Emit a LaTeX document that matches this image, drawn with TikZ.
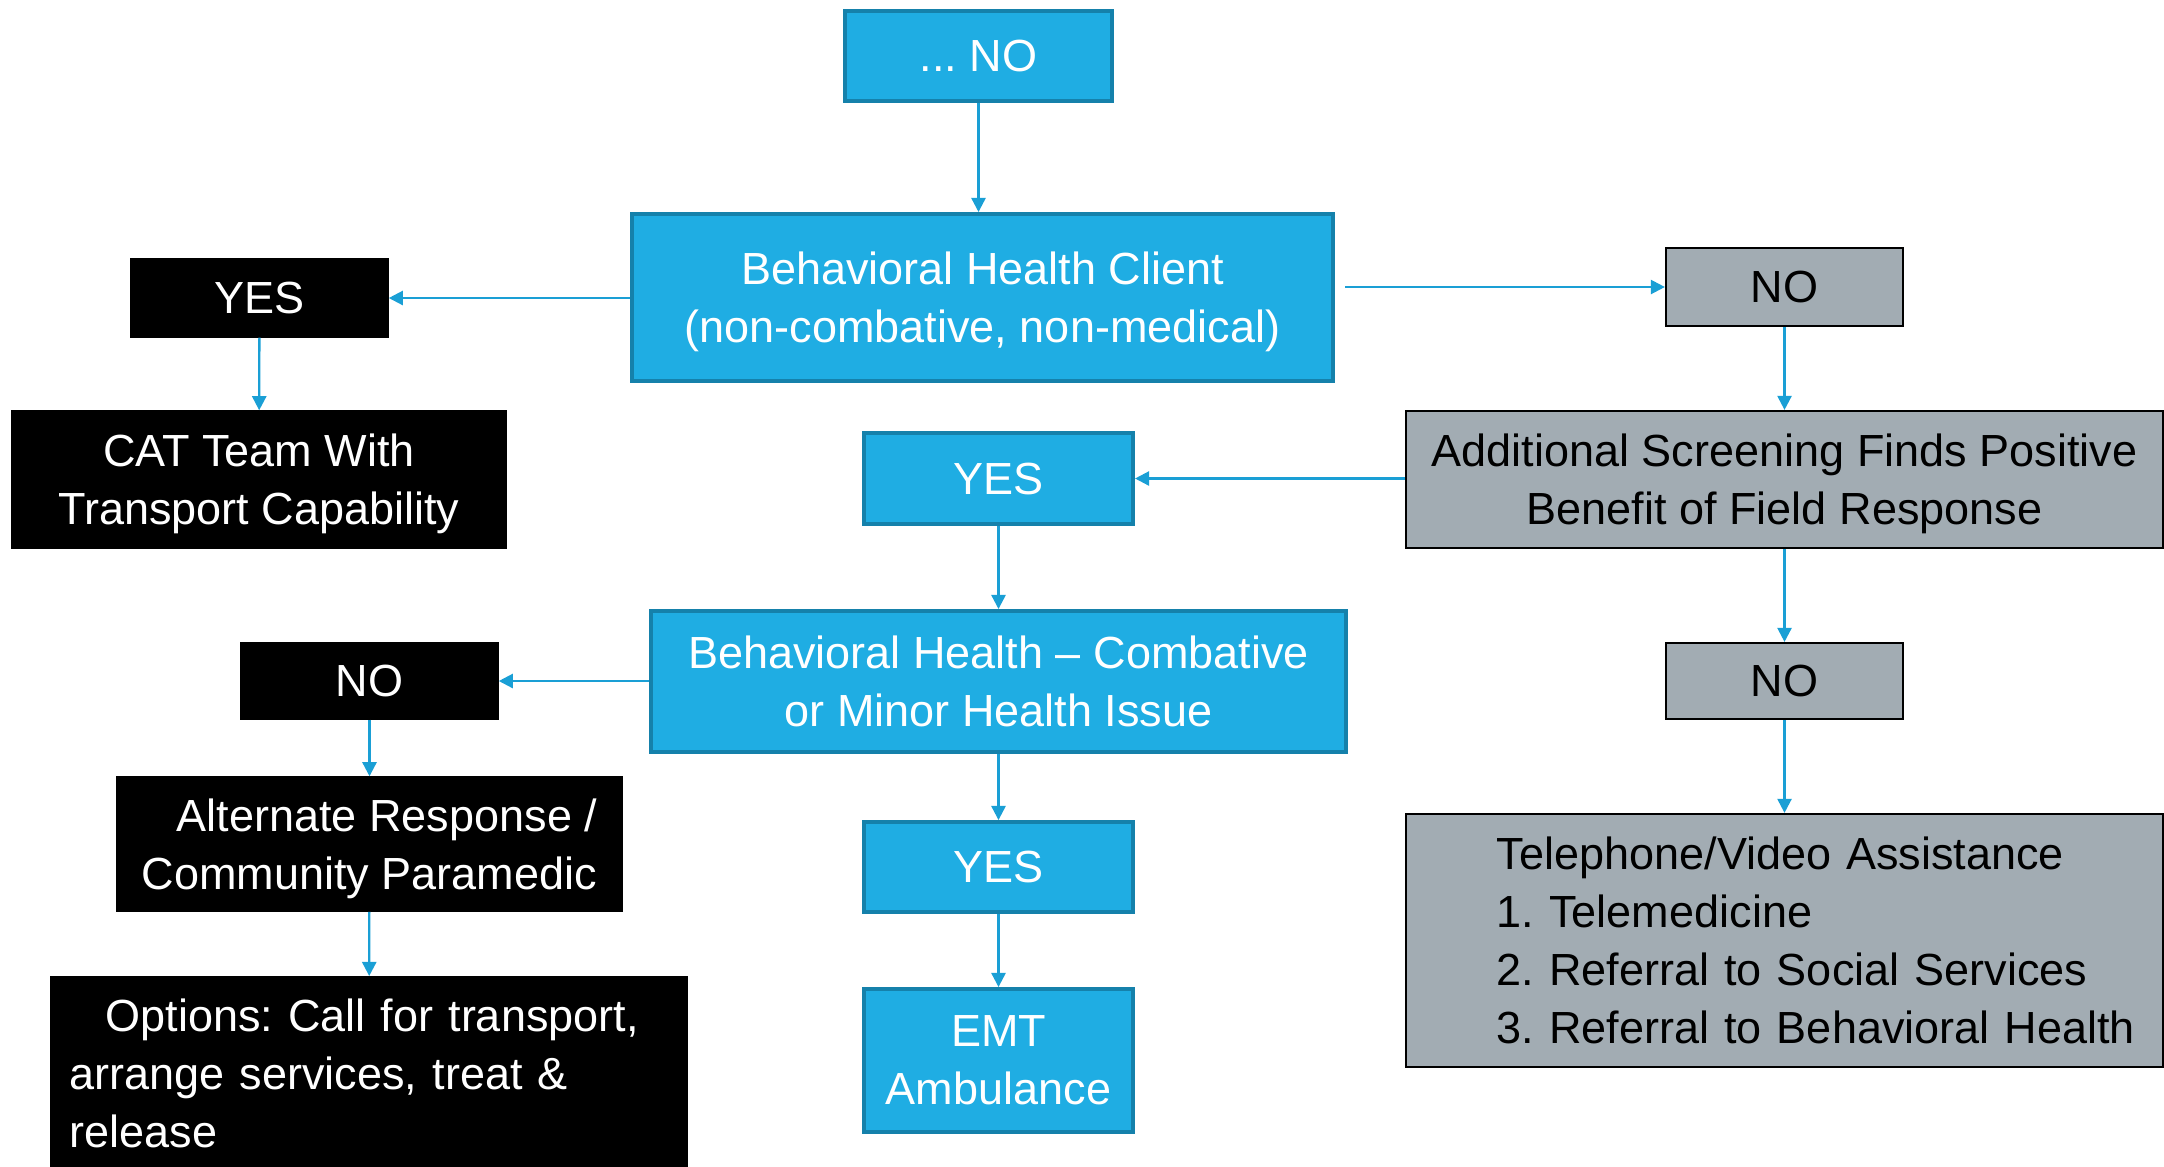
\documentclass[tikz,border=0pt]{standalone}
\usepackage{fontspec}
\setmainfont{Liberation Sans}
\usepackage{tikz}
\usetikzlibrary{arrows.meta}
\usetikzlibrary{positioning}
\frenchspacing

\definecolor{bhblue}{HTML}{1FADE3}
\definecolor{bhedge}{HTML}{1581AB}
\definecolor{bharrow}{HTML}{1A9FD5}
\definecolor{bhgrey}{HTML}{A2ACB3}

\tikzset{
    txt/.style={font=\fontsize{12.8}{16.5}\selectfont, align=center, inner sep=0pt},
    lowtxt/.style={text depth=-0.04cm},
    bluebox/.style={txt, draw=bhedge, line width=1.1pt, fill=bhblue, text=white},
    greybox/.style={txt, draw=black, line width=0.6pt, fill=bhgrey, text=black},
    blackbox/.style={txt, draw=black, fill=black, text=white},
    arr/.style={draw=bharrow, line width=0.65pt, -{Triangle[length=4pt,width=4pt]}}
}

\begin{document}
\begin{tikzpicture}[x=0.01cm, y=-0.01cm]
    \useasboundingbox (0, 0) rectangle (2164, 1166);

    % blue column
    \node[bluebox, minimum width=2.67cm, minimum height=0.90cm] (startno) at (978.5, 56) {... NO};
    \node[bluebox, lowtxt, minimum width=7.01cm, minimum height=1.67cm] (bhclient) at (982.5, 297.5) {Behavioral Health Client\\(non-combative, non-medical)};
    \node[bluebox, minimum width=2.69cm, minimum height=0.91cm] (yesmid) at (998.5, 478.5) {YES};
    \node[bluebox, minimum width=6.95cm, minimum height=1.41cm] (bhcombat) at (998.5, 681.5) {Behavioral Health -- Combative\\or Minor Health Issue};
    \node[bluebox, minimum width=2.69cm, minimum height=0.90cm] (yeslow) at (998.5, 867) {YES};
    \node[bluebox, minimum width=2.69cm, minimum height=1.43cm] (emt) at (998.5, 1060.5) {EMT\\Ambulance};

    % black column
    \node[blackbox, minimum width=2.57cm, minimum height=0.78cm] (yestop) at (259.5, 298) {YES};
    \node[blackbox, lowtxt, minimum width=4.94cm, minimum height=1.37cm] (cat) at (259, 479.5) {CAT Team With\\Transport Capability};
    \node[blackbox, minimum width=2.57cm, minimum height=0.76cm] (nomid) at (369.5, 681) {NO};
    \node[blackbox, lowtxt, minimum width=5.05cm, minimum height=1.34cm, align=right] (altresp) at (369.5, 844) {Alternate Response /\\Community Paramedic};
    \node[blackbox, anchor=north, text width=5.98cm, inner xsep=0.19cm, inner ysep=0.22cm, align=left] (options) at (369, 976) {\hspace*{0.36cm}Options: Call for transport,\\arrange services, treat \&\\release};

    % grey column
    \node[greybox, minimum width=2.37cm, minimum height=0.78cm] (notop) at (1784.5, 287) {NO};
    \node[greybox, lowtxt, minimum width=7.57cm, minimum height=1.37cm] (addscreen) at (1784.5, 479.5) {Additional Screening Finds Positive\\Benefit of Field Response};
    \node[greybox, minimum width=2.37cm, minimum height=0.76cm] (nolow) at (1784.5, 681) {NO};
    \node[greybox, text width=7.57cm, align=left, minimum height=2.53cm] (phone) at (1784.5, 940.5) {\leftskip=0.91cm Telephone/Video Assistance\\1. Telemedicine\\2. Referral to Social Services\\3. Referral to Behavioral Health\\[0.28cm]};

    % arrows
    \draw[arr] (startno.south) -- (startno.south |- bhclient.north);
    \draw[arr] (bhclient.west |- yestop) -- (yestop.east);
    \draw[arr] ([xshift=0.1cm]bhclient.east |- notop) -- (notop.west);
    \draw[arr] (yestop) -- (cat);
    \draw[arr] (notop) -- (addscreen);
    \draw[arr] (addscreen.west |- yesmid) -- (yesmid.east);
    \draw[arr] (yesmid) -- (bhcombat);
    \draw[arr] (bhcombat.west |- nomid) -- (nomid.east);
    \draw[arr] (nomid) -- (altresp);
    \draw[arr] (altresp) -- (options);
    \draw[arr] (bhcombat) -- (yeslow);
    \draw[arr] (yeslow) -- (emt);
    \draw[arr] (addscreen) -- (nolow);
    \draw[arr] (nolow) -- (phone);

\end{tikzpicture}
\end{document}
